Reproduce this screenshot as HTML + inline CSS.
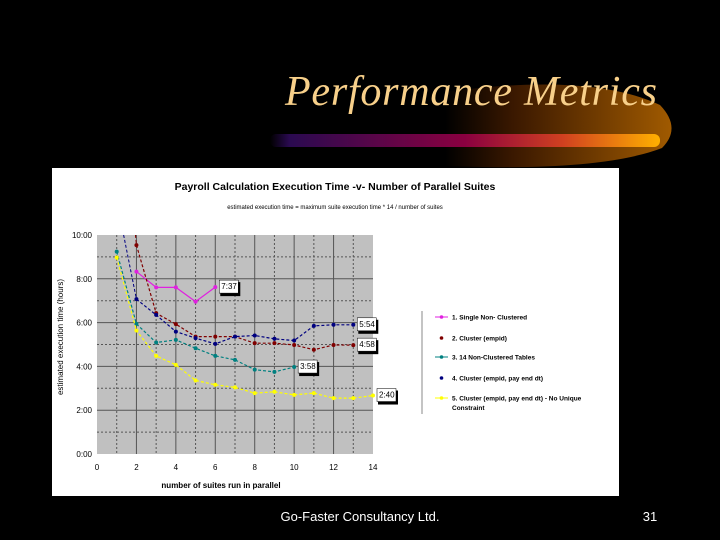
<!DOCTYPE html>
<html><head><meta charset="utf-8"><style>
body{margin:0;background:#000;width:720px;height:540px;overflow:hidden;position:relative;font-family:"Liberation Sans",sans-serif}
</style></head><body>
<svg width="720" height="540" style="position:absolute;left:0;top:0">
<defs>
<linearGradient id="bar" x1="0" x2="1"><stop offset="0" stop-color="#000"/><stop offset="0.05" stop-color="#2a0a50"/><stop offset="0.5" stop-color="#8a0040"/><stop offset="0.75" stop-color="#d04020"/><stop offset="1" stop-color="#ffb000"/></linearGradient>
<linearGradient id="sw" x1="0" x2="1"><stop offset="0" stop-color="#000"/><stop offset="0.3" stop-color="#3a1800"/><stop offset="1" stop-color="#a05a00"/></linearGradient>
</defs>
<path d="M445,92 Q590,72 660,105 Q682,128 662,148 Q600,172 445,166 Z" fill="url(#sw)"/>
<rect x="270" y="134" width="390" height="13" rx="6" fill="url(#bar)"/>
<text x="285" y="105" font-family="Liberation Serif" font-style="italic" font-size="42" textLength="372" lengthAdjust="spacing" fill="#f8d08a">Performance Metrics</text>
<rect x="52" y="168" width="567" height="328" fill="#fff"/>
<g id="chart"></g>
<text x="360" y="521" text-anchor="middle" font-size="13" fill="#fff">Go-Faster Consultancy Ltd.</text>
<text x="650" y="521" text-anchor="middle" font-size="13" fill="#fff">31</text>
</svg>
<script>
const xTicks=[0,2,4,6,8,10,12,14];
const yTickLabels=["0:00","2:00","4:00","6:00","8:00","10:00"];
const s1x=[2,3,4,5,6], s1y=[8.33,7.61,7.61,6.96,7.62];
const s2x=[2,3,4,5,6,7,8,9,10,11,12,13], s2y=[9.54,6.43,5.93,5.36,5.36,5.36,5.06,5.06,4.98,4.76,4.98,4.97];
const s3x=[1,2,3,4,5,6,7,8,9,10], s3y=[9.24,5.94,5.09,5.21,4.83,4.48,4.3,3.85,3.75,3.97];
const s4x=[2,3,4,5,6,7,8,9,10,11,12,13], s4y=[7.07,6.35,5.59,5.29,5.03,5.36,5.41,5.26,5.18,5.85,5.9,5.9];
const s5x=[1,2,3,4,5,6,7,8,9,10,11,12,13,14], s5y=[8.97,5.64,4.48,4.07,3.36,3.16,3.04,2.78,2.84,2.7,2.78,2.55,2.55,2.67];
const labels=["7:37","4:58","3:58","5:54","2:40"];
const legendText=["1. Single Non- Clustered","2. Cluster (empid)","3. 14 Non-Clustered Tables","4. Cluster (empid, pay end dt)","5. Cluster (empid, pay end dt) - No Unique"];
const X0=97,X1=373,Y0=454,Y1=235;
const sx=v=>X0+(X1-X0)*v/14, sy=v=>Y0-(Y0-Y1)*v/10;
const g=document.getElementById('chart');const NS='http://www.w3.org/2000/svg';
function mk(t,a,p){const e=document.createElementNS(NS,t);for(const k in a)e.setAttribute(k,a[k]);(p||g).appendChild(e);return e;}
let e;
e=mk('rect',{x:X0,y:Y1,width:X1-X0,height:Y0-Y1,fill:'#c0c0c0'});


for(let h=1;h<10;h++){e=mk('line',{x1:X0,x2:X1,y1:sy(h),y2:sy(h),stroke:'#555','stroke-width':1,'stroke-dasharray':h%2?'2,2':'none'});

}
for(let v=1;v<14;v++){e=mk('line',{x1:sx(v),x2:sx(v),y1:Y1,y2:Y0,stroke:'#555','stroke-width':1,'stroke-dasharray':v%2?'2,2':'none'});

}
xTicks.forEach(v=>{e=mk('text',{x:sx(v),y:Y0+16,'text-anchor':'middle','font-size':8,fill:'#000'});e.textContent=v;

});
yTickLabels.forEach((t,i)=>{e=mk('text',{x:X0-5,y:sy(i*2)+3,'text-anchor':'end','font-size':8,fill:'#000'});e.textContent=t;

});
e=mk('text',{x:221,y:488,'text-anchor':'middle','font-size':8,'font-weight':'bold',fill:'#000'});e.textContent='number of suites run in parallel';


e=mk('text',{x:0,y:0,transform:'translate(63,337) rotate(-90)','text-anchor':'middle','font-size':8,fill:'#000'});e.textContent='estimated execution time (hours)';


e=mk('text',{x:335,y:190,'text-anchor':'middle','font-size':10.5,'font-weight':'bold',fill:'#000'});e.textContent='Payroll Calculation Execution Time -v- Number of Parallel Suites';


e=mk('text',{x:335,y:209,'text-anchor':'middle','font-size':6,fill:'#000'});e.textContent='estimated execution time = maximum suite execution time * 14 / number of suites';


const series=[[s1x,s1y,'#e020e0','none'],[s2x,s2y,'#800000','3,2'],[s3x,s3y,'#008080','3,2'],[s4x,s4y,'#000080','3,2'],[s5x,s5y,'#ffff00','3,2']];
e=mk('line',{x1:sx(1.35),y1:sy(10),x2:sx(2),y2:sy(7.07),stroke:'#000080','stroke-dasharray':'3,2'});


e=mk('line',{x1:sx(1.95),y1:sy(10),x2:sx(2),y2:sy(9.54),stroke:'#800000','stroke-dasharray':'3,2'});


series.forEach((s,i)=>{const [xs,ys,c,d]=s;
e=mk('polyline',{points:xs.map((x,j)=>sx(x)+','+sy(ys[j])).join(' '),fill:'none',stroke:c,'stroke-width':1.2,'stroke-dasharray':d});


xs.forEach((x,j)=>{e=mk('circle',{cx:sx(x),cy:sy(ys[j]),r:2,fill:c});

});
const lx=sx(xs[xs.length-1])+4,ly=sy(ys[ys.length-1]);
e=mk('rect',{x:lx+1,y:ly-5,width:20,height:14,fill:'#000'});


e=mk('rect',{x:lx,y:ly-7,width:19,height:13,fill:'#fff',stroke:'#000','stroke-width':0.5});


e=mk('text',{x:lx+2,y:ly+2,'font-size':8,fill:'#000'});e.textContent=labels[i];


const legY=[317,338,357,378,398][i];
e=mk('line',{x1:435,x2:448,y1:legY,y2:legY,stroke:(i==1||i==3)?'none':c,'stroke-width':1});


e=mk('circle',{cx:441.5,cy:legY,r:1.8,fill:c});


e=mk('text',{x:452,y:legY+2.5,'font-size':6.5,'font-weight':'bold',fill:'#000'});e.textContent=legendText[i];


});
e=mk('text',{x:452,y:410,'font-size':6.5,'font-weight':'bold',fill:'#000'});e.textContent='Constraint';


e=mk('line',{x1:422,x2:422,y1:311,y2:414,stroke:'#888'});


</script>
</body></html>
